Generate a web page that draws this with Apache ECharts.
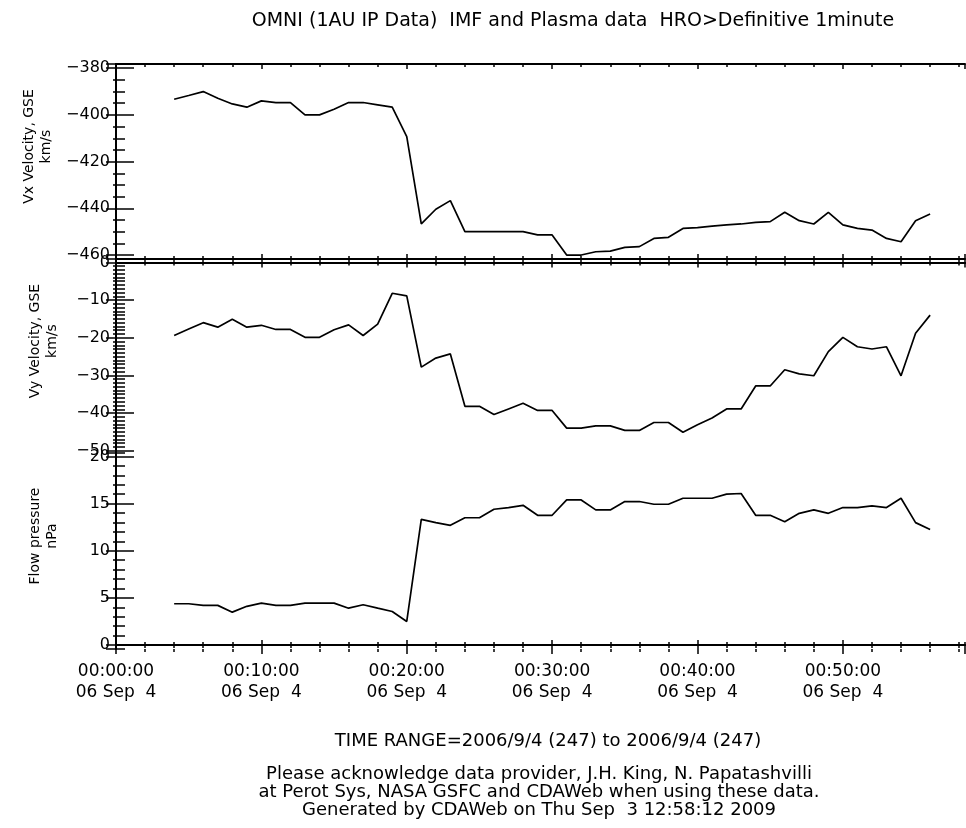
<!DOCTYPE html>
<html>
<head>
<meta charset="utf-8">
<script src="https://cdn.jsdelivr.net/npm/echarts@6/dist/echarts.min.js"></script>
<style>
html,body{margin:0;padding:0;background:#fff;}
#chart{width:966px;height:828px;}
</style>
</head>
<body>
<div id="chart"></div>
<script>
// ---- data (minutes after 2006-09-04 00:00:00) ----
const minutes = [4,5,6,7,8,9,10,11,12,13,14,15,16,17,18,19,20,21,22,23,24,25,26,27,28,29,30,
  31,32,33,34,35,36,37,38,39,40,41,42,43,44,45,46,47,48,49,50,51,52,53,54,55,56];
const vxGSE = [-393.3,-391.7,-390.0,-392.9,-395.3,-396.7,-394.0,-394.7,-394.7,-400.0,-400.0,-397.6,
  -394.7,-394.7,-395.7,-396.7,-409.3,-446.7,-440.4,-436.7,-450.0,-450.0,-450.0,-450.0,-450.0,-451.4,
  -451.4,-460.0,-460.0,-458.6,-458.3,-456.7,-456.4,-452.9,-452.4,-448.6,-448.3,-447.6,-447.1,-446.7,
  -446.0,-445.7,-441.7,-445.3,-446.7,-441.7,-447.1,-448.6,-449.3,-452.9,-454.3,-445.3,-442.4];
const vyGSE = [-19.4,-17.7,-16.0,-17.2,-15.1,-17.2,-16.7,-17.8,-17.8,-19.9,-19.9,-17.9,-16.6,-19.4,
  -16.4,-8.2,-8.9,-27.8,-25.4,-24.3,-38.2,-38.2,-40.4,-38.9,-37.4,-39.3,-39.3,-44.0,-44.0,-43.4,-43.4,
  -44.6,-44.6,-42.5,-42.5,-45.1,-43.1,-41.3,-38.9,-38.9,-32.8,-32.8,-28.5,-29.6,-30.1,-23.7,-19.9,
  -22.4,-23.0,-22.4,-30.1,-18.8,-14.0];
const flowPressure = [4.37,4.37,4.2,4.2,3.48,4.1,4.44,4.2,4.2,4.44,4.44,4.44,3.9,4.27,3.9,3.55,2.49,
  13.33,12.98,12.69,13.5,13.5,14.4,14.58,14.82,13.76,13.76,15.39,15.39,14.33,14.33,15.22,15.22,14.93,
  14.93,15.57,15.57,15.57,16.0,16.07,13.76,13.76,13.08,13.97,14.33,13.97,14.58,14.58,14.76,14.58,
  15.57,12.98,12.26];
const xTickLabels = ['00:00:00','00:10:00','00:20:00','00:30:00','00:40:00','00:50:00'];
const dateLabel = '06 Sep  4';
const panelNames = ['Vx Velocity, GSE\nkm/s', 'Vy Velocity, GSE\nkm/s', 'Flow pressure\nnPa'];
const titleText = 'OMNI (1AU IP Data)  IMF and Plasma data  HRO>Definitive 1minute';
const timeRangeText = 'TIME RANGE=2006/9/4 (247) to 2006/9/4 (247)';
const footerLines = ['Please acknowledge data provider, J.H. King, N. Papatashvilli',
  'at Perot Sys, NASA GSFC and CDAWeb when using these data.',
  'Generated by CDAWeb on Thu Sep  3 12:58:12 2009'];

// ---- layout / style ----
const FONT = 'DejaVu Sans';
const BLACK = '#000';
const xMin = 0, xMax = 58.4;
const panels = [
  {top: 64, height: 195, min: -461.7, max: -378.2, major: 20, minor: 5, data: vxGSE},
  {top: 259, height: 194, min: -50.6, max: 0.9, major: 10, minor: 1, data: vyGSE},
  {top: 453, height: 196, min: -0.43, max: 20.37, major: 5, minor: 1, data: flowPressure}
];

const grids = [], xAxes = [], yAxes = [], series = [];
const lineStyle = {color: BLACK, width: 2};

function xAxis(g, pos, step, len, inside, withLine, labels) {
  const ax = {
    type: 'value', gridIndex: g, position: pos, min: xMin, max: xMax, interval: step,
    axisLine: {show: withLine, lineStyle: lineStyle},
    axisTick: {show: true, inside: inside, length: len, lineStyle: {color: BLACK, width: 1.5}},
    splitLine: {show: false},
    axisLabel: {show: false}
  };
  if (labels) {
    ax.axisLabel = {
      show: true, showMaxLabel: false, margin: 12, fontFamily: FONT, fontSize: 17, lineHeight: 21, color: BLACK,
      formatter: v => xTickLabels[Math.round(v / 10)] + '\n' + dateLabel
    };
  }
  return ax;
}
function yAxis(g, p, pos, step, len, withLine, labels, name) {
  const ax = {
    type: 'value', gridIndex: g, position: pos, min: p.min, max: p.max,
    minInterval: step, maxInterval: step, splitNumber: 5,
    axisLine: {show: withLine, lineStyle: lineStyle},
    axisTick: {show: true, inside: true, length: len, lineStyle: {color: BLACK, width: 1.5}},
    splitLine: {show: false},
    axisLabel: {show: false}
  };
  if (labels) {
    ax.axisLabel = {
      show: true, showMinLabel: false, showMaxLabel: false, margin: 6,
      fontFamily: FONT, fontSize: 16, color: BLACK,
      formatter: v => (v < 0 ? '\u2212' + Math.abs(Math.round(v)) : String(Math.round(v)))
    };
    ax.name = name;
    ax.nameLocation = 'middle';
    ax.nameRotate = 90;
    ax.nameGap = 55;
    ax.nameTextStyle = {fontFamily: FONT, fontSize: 14, lineHeight: 17, color: BLACK, padding: [0, 0, 0, 30]};
  }
  return ax;
}

panels.forEach((p, g) => {
  grids.push({left: 116, right: 1, top: p.top, height: p.height, containLabel: false});
  const isLast = g === panels.length - 1;
  const xi = xAxes.length;
  xAxes.push(xAxis(g, 'bottom', 10, 5, true, true, isLast));
  xAxes.push(xAxis(g, 'bottom', 2, 3, true, false, false));
  xAxes.push(xAxis(g, 'top', 10, 5, true, true, false));
  xAxes.push(xAxis(g, 'top', 2, 3, true, false, false));
  if (isLast) {
    xAxes.push(xAxis(g, 'bottom', 10, 5, false, false, false));
    xAxes.push(xAxis(g, 'bottom', 2, 3, false, false, false));
  }
  const yi = yAxes.length;
  yAxes.push(yAxis(g, p, 'left', p.major, 18, true, true, panelNames[g]));
  yAxes.push(yAxis(g, p, 'left', p.minor, 9, false, false));
  yAxes.push(yAxis(g, p, 'right', p.major, 10, true, false));
  yAxes.push(yAxis(g, p, 'right', p.minor, 3, false, false));
  series.push({
    type: 'line', xAxisIndex: xi, yAxisIndex: yi,
    data: minutes.map((m, i) => [m, p.data[i]]),
    showSymbol: false, symbol: 'none', animation: false,
    lineStyle: {color: BLACK, width: 1.7}
  });
});

const titleStyle = {fontFamily: FONT, fontSize: 19, fontWeight: 'normal', color: BLACK};
const rangeStyle = {fontFamily: FONT, fontSize: 18, fontWeight: 'normal', color: BLACK};
const footStyle = {fontFamily: FONT, fontSize: 18, fontWeight: 'normal', color: BLACK, lineHeight: 18};
const option = {
  backgroundColor: '#fff',
  animation: false,
  title: [
    {text: titleText, left: 568, top: 7, textAlign: 'center', textStyle: titleStyle},
    {text: timeRangeText, left: 543, top: 727, textAlign: 'center', textStyle: rangeStyle},
    {text: footerLines.join('\n'), left: 534, top: 760, textAlign: 'center', textStyle: footStyle}
  ],
  grid: grids,
  xAxis: xAxes,
  yAxis: yAxes,
  series: series
};
const chart = echarts.init(document.getElementById('chart'), null, {renderer: 'canvas'});
chart.setOption(option);
</script>
</body>
</html>
